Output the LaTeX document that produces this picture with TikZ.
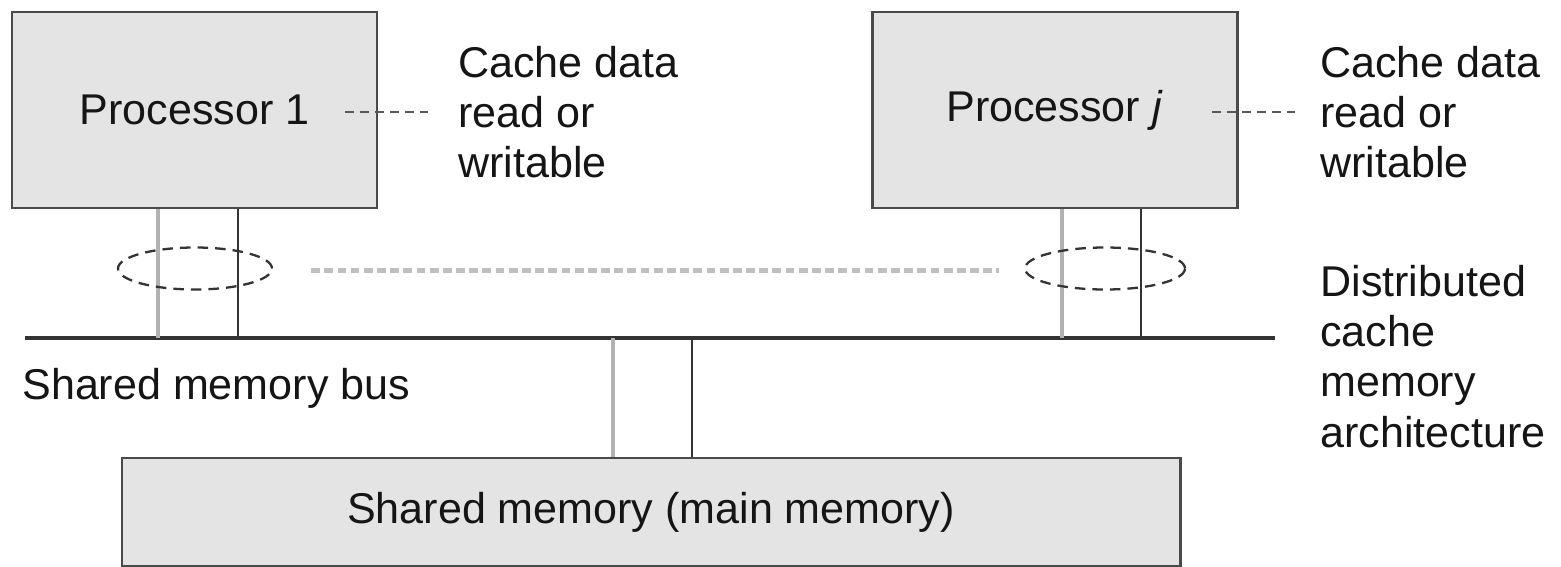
\documentclass[tikz,border=0pt]{standalone}
\usepackage{fontspec}
\setmainfont{Liberation Sans}
\usetikzlibrary{shapes.geometric}
\definecolor{boxfill}{HTML}{E4E4E4}
\definecolor{boxline}{HTML}{4A4A4A}
\definecolor{txt}{HTML}{151515}
\tikzset{
  procbox/.style={draw=boxline, line width=1.7pt, fill=boxfill, minimum width=7.3cm, minimum height=3.92cm, inner sep=0pt, font=\fontsize{24.5}{28.5}\selectfont, text=txt},
  membox/.style={draw=boxline, line width=1.7pt, fill=boxfill, minimum width=21.16cm, minimum height=2.16cm, inner sep=0pt, font=\fontsize{24.5}{28.5}\selectfont, text=txt},
  lbl/.style={inner sep=0pt, anchor=west, align=left, font=\fontsize{24.5}{28.5}\selectfont, text=txt},
  darkwire/.style={draw=black!80, line width=1.6pt},
  lightwire/.style={draw=black!30, line width=2.2pt},
  buswire/.style={draw=black!80, line width=2.1pt},
  cachering/.style={ellipse, draw=black!80, line width=1.3pt, dash pattern=on 6pt off 4pt, inner sep=0pt},
  leader/.style={draw=black!65, line width=1pt, dash pattern=on 5pt off 3.5pt},
  farlink/.style={draw=black!25, line width=2.8pt, dash pattern=on 5pt off 2.5pt},
}
\begin{document}
\begin{tikzpicture}
\useasboundingbox (0,0) rectangle (31.22,-11.34);
\fill[white] (0,0) rectangle (31.22,-11.34);
% processors
\node[procbox] (p1) at (3.89,-2.2) {Processor 1};
\node[procbox] (pj) at (21.09,-2.2) {Processor \textit{j}};
% memory
\node[membox] (mem) at (13.02,-10.24) {Shared memory (main memory)};
% bus
\coordinate (busl) at (0.5,-6.76);
\coordinate (busr) at (25.5,-6.76);
\draw[buswire] (busl) -- (busr);
% vertical wires processor 1
\draw[lightwire] ([xshift=-0.73cm]p1.south) -- ([xshift=-0.73cm]p1.south |- busl);
\draw[darkwire] ([xshift=0.87cm]p1.south) -- ([xshift=0.87cm]p1.south |- busl);
% vertical wires processor j
\draw[lightwire] ([xshift=0.15cm]pj.south) -- ([xshift=0.15cm]pj.south |- busl);
\draw[darkwire] ([xshift=1.73cm]pj.south) -- ([xshift=1.73cm]pj.south |- busl);
% vertical wires memory
\draw[lightwire] ([xshift=-0.76cm]mem.north) -- ([xshift=-0.76cm]mem.north |- busl);
\draw[darkwire] ([xshift=0.82cm]mem.north) -- ([xshift=0.82cm]mem.north |- busl);
% cache rings
\node[cachering, minimum width=3.08cm, minimum height=0.84cm] (e1) at (3.9,-5.37) {};
\node[cachering, minimum width=3.2cm, minimum height=0.84cm] (ej) at (22.1,-5.37) {};
\draw[farlink] ([xshift=0.76cm, yshift=-0.04cm]e1.east) -- ([xshift=-0.5cm, yshift=-0.04cm]ej.west);
% labels
\node[lbl] (c1) at (9.16,-2.24) {Cache data\\read or\\writable};
\node[lbl] (cj) at (26.4,-2.24) {Cache data\\read or\\writable};
\draw[leader] ([xshift=-2.26cm]c1.west) -- ([xshift=-0.56cm]c1.west);
\draw[leader] ([xshift=-2.16cm]cj.west) -- ([xshift=-0.5cm]cj.west);
\node[lbl] (dist) at (26.4,-7.13) {Distributed\\cache\\memory\\architecture};
\node[lbl] (busname) at (0.44,-7.76) {Shared memory bus};
\end{tikzpicture}
\end{document}
